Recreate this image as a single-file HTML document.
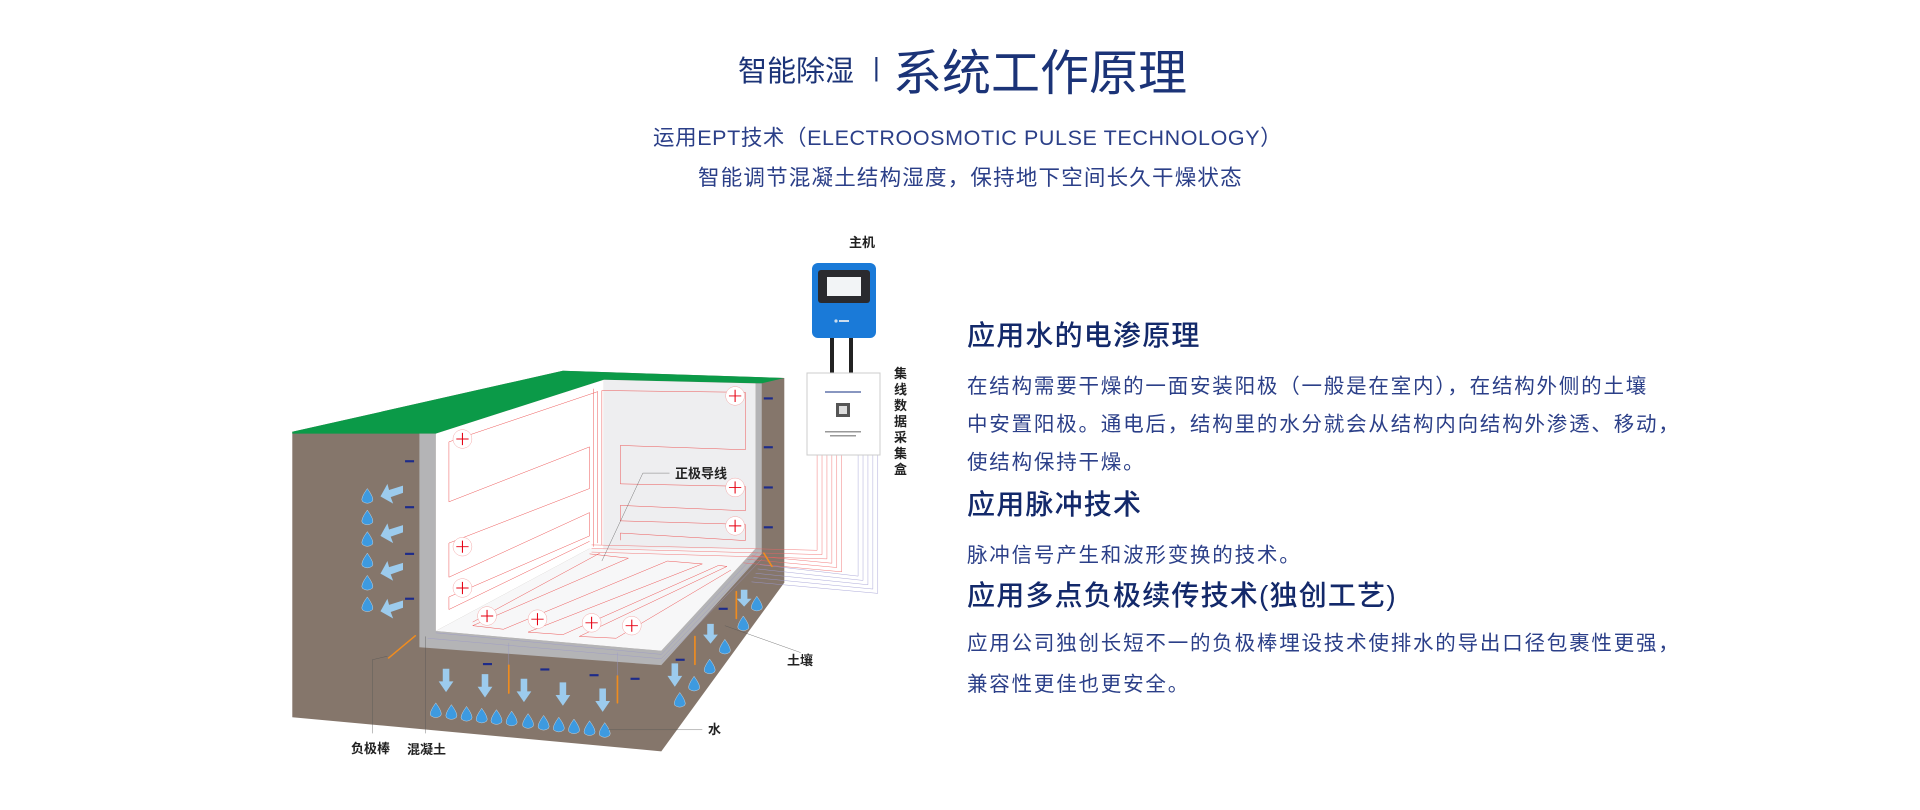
<!DOCTYPE html>
<html><head><meta charset="utf-8">
<style>
html,body{margin:0;padding:0;background:#fff;}
body{width:1920px;height:810px;overflow:hidden;position:relative;font-family:"Liberation Sans","Noto Sans CJK SC",sans-serif;}
.t{position:absolute;white-space:nowrap;}
.h{color:#13296a;font-size:28px;font-weight:500;letter-spacing:1.2px;}
.p{color:#2b3f88;font-size:20.5px;letter-spacing:1.8px;}
</style></head><body>
<div class="t" style="left:738px;top:48px;font-size:29px;color:#1b3377;">智能除湿</div>
<div class="t" style="left:873px;top:52px;font-size:26px;color:#1b3377;">|</div>
<div class="t" style="left:893px;top:34px;font-size:49px;color:#1b3377;">系统工作原理</div>
<div class="t" style="left:653px;top:121px;font-size:21.5px;color:#2b3f88;letter-spacing:0.6px;">运用EPT技术（ELECTROOSMOTIC PULSE TECHNOLOGY）</div>
<div class="t" style="left:698px;top:161px;font-size:21.5px;color:#2b3f88;letter-spacing:1.2px;">智能调节混凝土结构湿度，保持地下空间长久干燥状态</div>

<div class="t h" style="left:967px;top:314px;">应用水的电渗原理</div>
<div class="t p" style="left:967px;top:369px;">在结构需要干燥的一面安装阳极（一般是在室内），在结构外侧的土壤</div>
<div class="t p" style="left:967px;top:407px;">中安置阳极。通电后，结构里的水分就会从结构内向结构外渗透、移动，</div>
<div class="t p" style="left:967px;top:445px;">使结构保持干燥。</div>
<div class="t h" style="left:967px;top:483px;">应用脉冲技术</div>
<div class="t p" style="left:967px;top:538px;">脉冲信号产生和波形变换的技术。</div>
<div class="t h" style="left:967px;top:574px;">应用多点负极续传技术(独创工艺)</div>
<div class="t p" style="left:967px;top:626px;">应用公司独创长短不一的负极棒埋设技术使排水的导出口径包裹性更强，</div>
<div class="t p" style="left:967px;top:667px;">兼容性更佳也更安全。</div>

<svg width="1920" height="810" style="position:absolute;left:0;top:0" xmlns="http://www.w3.org/2000/svg">
<g transform="translate(280,220) scale(0.41,0.359)">
 <polygon points="30,590 690,420 1230,440 1230,1010 930,1480 30,1385" fill="#85766b"/>
 <polygon points="30,590 690,420 1230,440 1175,455 790,445 380,595 340,595 30,595" fill="#0b9a48"/>
 <polygon points="340,595 380,595 380,1145 930,1200 1160,915 1160,455 1175,455 1175,930 930,1240 340,1190" fill="#b4b4b6"/>
 <polygon points="380,595 790,445 790,915 755,915 380,1145" fill="#ffffff"/>
 <polygon points="790,445 1160,455 1160,915 790,915" fill="#eeeef0"/>
 <polygon points="755,915 1160,915 930,1200 380,1145" fill="#f7f7f8"/>
 <g fill="none" stroke="#9a98c8" stroke-width="1" vector-effect="non-scaling-stroke">
  <polyline points="380,1150 930,1210 1165,925"/>
  <polyline points="360,1165 930,1222 1170,935"/>
  <polyline points="930,1232 1175,945"/>
  <polyline points="558,1240 558,1178"/>
  <polyline points="823,1268 823,1205"/>
 </g>
 <g fill="none" stroke="#ec4a4a" stroke-width="1.2" vector-effect="non-scaling-stroke">
  <polyline points="775,900 775,478 412,618 412,785 755,632 755,748 412,900 412,995 755,815 755,880 412,1050 412,1085 755,895"/>
  <polyline points="765,910 765,470"/>
  <polyline points="785,905 785,475 1135,480 1135,640 830,628 830,735 1135,742 1135,810 830,795 830,838 1135,848 1135,893 830,872 830,892"/>
  <polyline points="755,930 850,942 470,1130 545,1140 945,950 1030,958 605,1148 690,1155 1070,962 1090,965 730,1160 820,1165 1100,975"/>
  <polyline points="780,928 470,1120"/>
 </g>
 <g fill="none" stroke="#ef6464" stroke-width="1.1" vector-effect="non-scaling-stroke">
  <polyline points="760,905 1310,920 1310,640"/>
  <polyline points="760,915 1322,932 1322,640"/>
  <polyline points="760,925 1334,944 1334,640"/>
  <polyline points="1150,935 1346,956 1346,640"/>
  <polyline points="1140,945 1358,968 1358,640"/>
  <polyline points="1130,955 1370,980 1370,640"/>
 </g>
 <g fill="none" stroke="#9d9ad2" stroke-width="1.1" vector-effect="non-scaling-stroke">
  <polyline points="1170,960 1410,992 1410,640"/>
  <polyline points="1165,972 1422,1004 1422,640"/>
  <polyline points="1160,984 1434,1016 1434,640"/>
  <polyline points="1155,996 1446,1028 1446,640"/>
  <polyline points="1150,1008 1458,1040 1458,640"/>
 </g>
 <g fill="#fff" stroke="#f2a0a0" stroke-width="1.2" vector-effect="non-scaling-stroke">
  <ellipse cx="445" cy="610" rx="23" ry="26"/><ellipse cx="1110" cy="490" rx="23" ry="26"/>
  <ellipse cx="1110" cy="745" rx="23" ry="26"/><ellipse cx="1110" cy="852" rx="23" ry="26"/>
  <ellipse cx="445" cy="910" rx="23" ry="26"/><ellipse cx="445" cy="1025" rx="23" ry="26"/>
  <ellipse cx="505" cy="1103" rx="23" ry="26"/><ellipse cx="628" cy="1112" rx="23" ry="26"/>
  <ellipse cx="760" cy="1122" rx="23" ry="26"/><ellipse cx="858" cy="1130" rx="23" ry="26"/>
 </g>
 <g stroke="#e60012" stroke-width="2.6" vector-effect="non-scaling-stroke" fill="none">
  <path d="M430,610h30M445,593v34 M1095,490h30M1110,473v34 M1095,745h30M1110,728v34 M1095,852h30M1110,835v34 M430,910h30M445,893v34 M430,1025h30M445,1008v34 M490,1103h30M505,1086v34 M613,1112h30M628,1095v34 M745,1122h30M760,1105v34 M843,1130h30M858,1113v34"/>
 </g>
 <g fill="#1d2b8a">
  <rect x="305" y="669" width="22" height="6"/><rect x="305" y="797" width="22" height="6"/>
  <rect x="305" y="927" width="22" height="6"/><rect x="305" y="1052" width="22" height="6"/>
  <rect x="1180" y="494" width="22" height="6"/><rect x="1180" y="630" width="22" height="6"/>
  <rect x="1180" y="742" width="22" height="6"/><rect x="1180" y="853" width="22" height="6"/>
  <rect x="495" y="1234" width="22" height="6"/><rect x="635" y="1249" width="22" height="6"/>
  <rect x="755" y="1265" width="22" height="6"/><rect x="855" y="1275" width="22" height="6"/>
  <rect x="965" y="1222" width="22" height="6"/><rect x="1070" y="1080" width="22" height="6"/>
 </g>
 <g stroke="#f08c1e" stroke-width="4" vector-effect="non-scaling-stroke" stroke-linecap="round">
  <line x1="265" y1="1220" x2="330" y2="1158"/>
  <line x1="558" y1="1240" x2="558" y2="1318"/>
  <line x1="823" y1="1270" x2="823" y2="1345"/>
  <line x1="1012" y1="1160" x2="1012" y2="1238"/>
  <line x1="1113" y1="1035" x2="1113" y2="1110"/>
  <line x1="1180" y1="928" x2="1200" y2="965"/>
 </g>
 <g fill="#3d9ae0" stroke="#fff" stroke-width="0.8" vector-effect="non-scaling-stroke">
  <path d="M213,748 q-18,28 -12,36 q12,10 24,0 q6,-8 -12,-36z"/><path d="M213,808 q-18,28 -12,36 q12,10 24,0 q6,-8 -12,-36z"/>
  <path d="M213,868 q-18,28 -12,36 q12,10 24,0 q6,-8 -12,-36z"/><path d="M213,928 q-18,28 -12,36 q12,10 24,0 q6,-8 -12,-36z"/>
  <path d="M213,990 q-18,28 -12,36 q12,10 24,0 q6,-8 -12,-36z"/><path d="M213,1050 q-18,28 -12,36 q12,10 24,0 q6,-8 -12,-36z"/>
  <path d="M380,1345 q-18,28 -12,36 q12,10 24,0 q6,-8 -12,-36z"/><path d="M418,1350 q-18,28 -12,36 q12,10 24,0 q6,-8 -12,-36z"/>
  <path d="M455,1355 q-18,28 -12,36 q12,10 24,0 q6,-8 -12,-36z"/><path d="M492,1360 q-18,28 -12,36 q12,10 24,0 q6,-8 -12,-36z"/>
  <path d="M528,1364 q-18,28 -12,36 q12,10 24,0 q6,-8 -12,-36z"/><path d="M565,1368 q-18,28 -12,36 q12,10 24,0 q6,-8 -12,-36z"/>
  <path d="M605,1375 q-18,28 -12,36 q12,10 24,0 q6,-8 -12,-36z"/><path d="M643,1380 q-18,28 -12,36 q12,10 24,0 q6,-8 -12,-36z"/>
  <path d="M680,1385 q-18,28 -12,36 q12,10 24,0 q6,-8 -12,-36z"/><path d="M717,1390 q-18,28 -12,36 q12,10 24,0 q6,-8 -12,-36z"/>
  <path d="M755,1395 q-18,28 -12,36 q12,10 24,0 q6,-8 -12,-36z"/><path d="M792,1400 q-18,28 -12,36 q12,10 24,0 q6,-8 -12,-36z"/>
  <path d="M1163,1048 q-18,28 -12,36 q12,10 24,0 q6,-8 -12,-36z"/><path d="M1130,1103 q-18,28 -12,36 q12,10 24,0 q6,-8 -12,-36z"/>
  <path d="M1085,1168 q-18,28 -12,36 q12,10 24,0 q6,-8 -12,-36z"/><path d="M1048,1223 q-18,28 -12,36 q12,10 24,0 q6,-8 -12,-36z"/>
  <path d="M1010,1271 q-18,28 -12,36 q12,10 24,0 q6,-8 -12,-36z"/><path d="M975,1316 q-18,28 -12,36 q12,10 24,0 q6,-8 -12,-36z"/>
 </g>
 <g fill="#9ccbed">
  <path d="M300,740 L300,760 L270,772 L276,790 L245,770 L262,735 L266,752z"/>
  <path d="M300,850 L300,870 L270,882 L276,900 L245,880 L262,845 L266,862z"/>
  <path d="M300,955 L300,975 L270,987 L276,1005 L245,985 L262,950 L266,967z"/>
  <path d="M300,1060 L300,1080 L270,1092 L276,1110 L245,1090 L262,1055 L266,1072z"/>
  <path d="M397,1250h16v35h10l-18,30l-18,-30h10z"/>
  <path d="M492,1265h16v35h10l-18,30l-18,-30h10z"/>
  <path d="M587,1278h16v35h10l-18,30l-18,-30h10z"/>
  <path d="M682,1288h16v35h10l-18,30l-18,-30h10z"/>
  <path d="M779,1305h16v35h10l-18,30l-18,-30h10z"/>
  <path d="M955,1235h16v35h10l-18,30l-18,-30h10z"/>
  <path d="M1042,1125h16v30h10l-18,25l-18,-25h10z"/>
  <path d="M1124,1030h16v25h10l-18,22l-18,-22h10z"/>
 </g>
 <g fill="none" stroke="#555" stroke-width="1" vector-effect="non-scaling-stroke">
  <polyline points="950,705 885,705 785,950"/>
  <polyline points="1270,1205 1085,1130"/>
  <polyline points="1030,1420 800,1420"/>
  <polyline points="225,1430 225,1225 262,1215"/>
  <polyline points="355,1430 355,1160"/>
 </g>
</g>
<g font-family="Liberation Sans,Noto Sans CJK SC,sans-serif" font-weight="bold" font-size="13" fill="#222">
 <text x="849" y="247">主机</text>
 <text x="675" y="478">正极导线</text>
 <text x="787" y="665">土壤</text>
 <text x="708" y="734">水</text>
 <text x="351" y="753">负极棒</text>
 <text x="407" y="754">混凝土</text>
 <text x="894" y="378">集</text><text x="894" y="394">线</text><text x="894" y="410">数</text>
 <text x="894" y="426">据</text><text x="894" y="442">采</text><text x="894" y="458">集</text><text x="894" y="474">盒</text>
</g>
<rect x="812" y="263" width="64" height="75" rx="6" fill="#1a7ad8"/>
<rect x="818" y="270" width="52" height="33" rx="3" fill="#2a2a2e"/>
<rect x="827" y="277" width="34" height="19" fill="#f2f4f6"/>
<circle cx="836" cy="321" r="1.6" fill="#cde"/>
<rect x="839" y="320" width="10" height="2" fill="#cde"/>
<rect x="830" y="338" width="4" height="35" fill="#222"/>
<rect x="849" y="338" width="4" height="35" fill="#222"/>
<rect x="807" y="373" width="73" height="82" fill="#fff" stroke="#ccc" stroke-width="1"/>
<rect x="836" y="403" width="14" height="14" fill="#555"/>
<rect x="839" y="406" width="8" height="8" fill="#ddd"/>
<rect x="825" y="391" width="36" height="2" fill="#8896c0"/>
<rect x="825" y="431" width="36" height="1.5" fill="#999"/>
<rect x="830" y="435" width="26" height="1.5" fill="#999"/>
</svg>
</body></html>
